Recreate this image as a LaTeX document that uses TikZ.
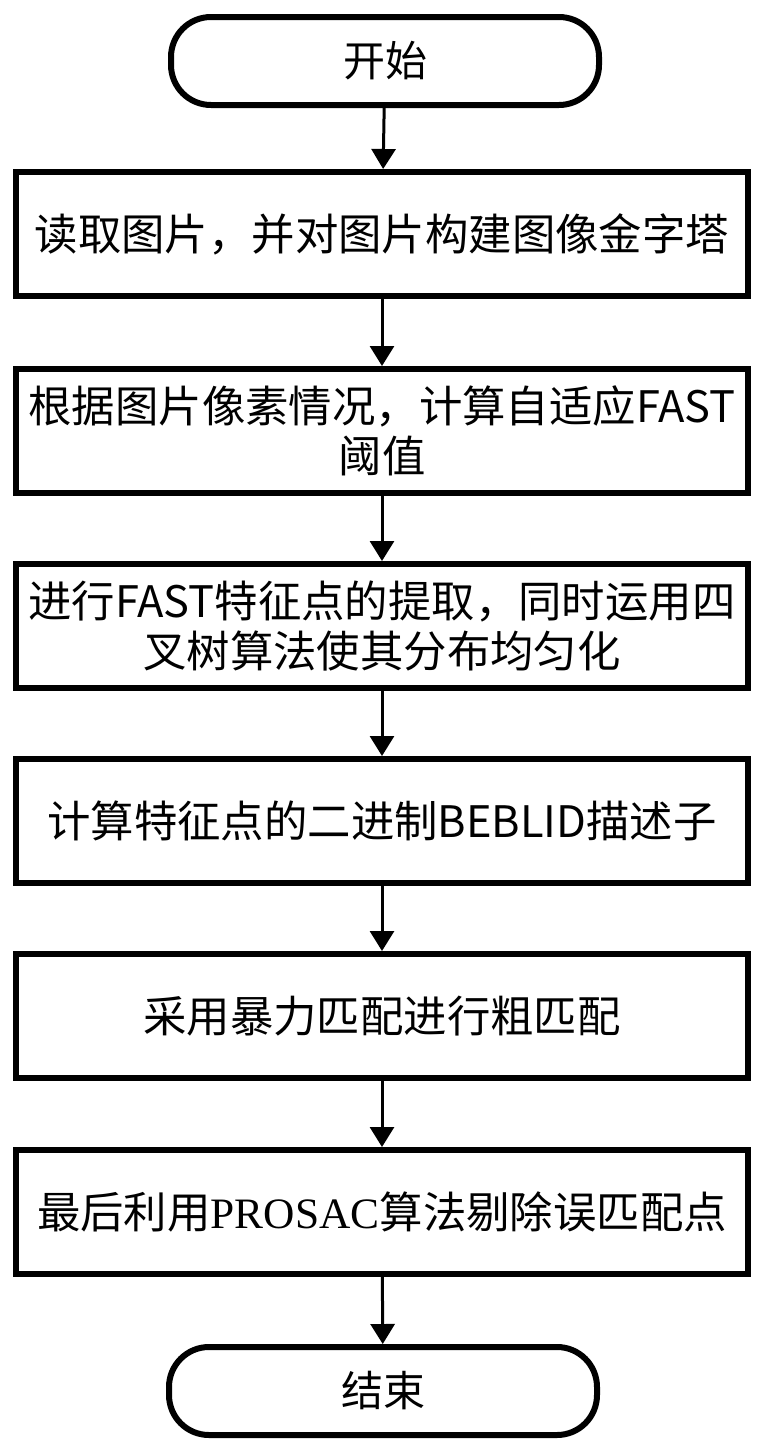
\documentclass[tikz,border=0pt]{standalone}
\usepackage{fontspec}
\setmainfont{Noto Sans CJK SC}
\newfontfamily\latinserif{Liberation Serif}
\usetikzlibrary{arrows.meta}

\begin{document}
\begin{tikzpicture}[x=0.5pt, y=-0.5pt,
  terminal/.style={draw, line width=3pt, rounded corners=20pt, minimum width=214pt, minimum height=44pt, inner sep=0pt, font=\fontsize{21}{25}\selectfont},
  stepbox/.style={draw, line width=3pt, minimum width=366pt, minimum height=62pt, inner sep=0pt, align=center, font=\fontsize{21.7}{25}\selectfont},
  flow/.style={line width=1.5pt, -{Triangle[width=12pt, length=10pt]}}]
  \useasboundingbox (0,0) rectangle (763,1451);

  % terminals and steps
  \node[terminal] (start) at (385,61) {开始};
  \node[stepbox] (read) at (382,234) {读取图片，并对图片构建图像金字塔};
  \node[stepbox] (thresh) at (382,431) {根据图片像素情况，计算自适应FAST\\阈值};
  \node[stepbox] (extract) at (382,626) {进行FAST特征点的提取，同时运用四\\叉树算法使其分布均匀化};
  \node[stepbox] (descr) at (382,821) {计算特征点的二进制BEBLID描述子};
  \node[stepbox] (coarse) at (382,1016) {采用暴力匹配进行粗匹配};
  \node[stepbox] (prosac) at (382,1212) {最后利用{\latinserif PROSAC}算法剔除误匹配点};
  \node[terminal] (finish) at (383,1391) {结束};

  % connectors
  \draw[flow] (start) -- (read);
  \draw[flow] (read) -- (thresh);
  \draw[flow] (thresh) -- (extract);
  \draw[flow] (extract) -- (descr);
  \draw[flow] (descr) -- (coarse);
  \draw[flow] (coarse) -- (prosac);
  \draw[flow] (prosac) -- (finish);
\end{tikzpicture}
\end{document}
